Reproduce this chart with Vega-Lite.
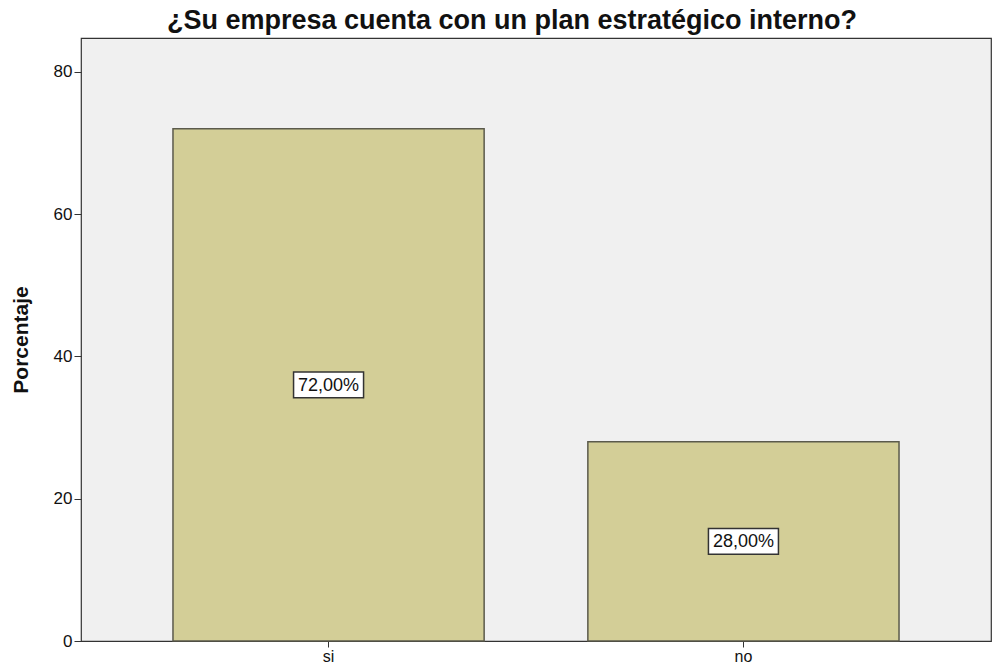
{
  "$schema": "https://vega.github.io/schema/vega-lite/v6.json",
  "width": 910,
  "height": 603,
  "autosize": {"type": "none"},
  "padding": {"left": 81, "top": 38, "right": 1, "bottom": 27},
  "background": "white",
  "title": {
    "text": "¿Su empresa cuenta con un plan estratégico interno?",
    "font": "Liberation Sans",
    "fontSize": 27,
    "fontWeight": "bold",
    "color": "#111",
    "anchor": "middle",
    "dx": -24,
    "offset": 3
  },
  "config": {
    "view": {"fill": "#f0f0f0", "stroke": "#333333", "strokeWidth": 1.2},
    "axis": {"labelFont": "Liberation Sans", "titleFont": "Liberation Sans", "labelColor": "#111", "titleColor": "#111", "grid": false, "domainColor": "#333333", "tickColor": "#333333"}
  },
  "data": {
    "values": [
      {"respuesta": "si", "porcentaje": 72, "etiqueta": "72,00%"},
      {"respuesta": "no", "porcentaje": 28, "etiqueta": "28,00%"}
    ]
  },
  "encoding": {
    "x": {
      "field": "respuesta",
      "type": "nominal",
      "sort": ["si", "no"],
      "scale": {"paddingInner": 0.25, "paddingOuter": 0.2217},
      "axis": {"title": null, "labelAngle": 0, "labelFontSize": 16, "tickSize": 6, "labelPadding": 1, "domain": false}
    }
  },
  "layer": [
    {
      "mark": {"type": "bar", "fill": "#d3ce97", "stroke": "#5b5a4c", "strokeWidth": 1.5},
      "encoding": {
        "y": {
          "field": "porcentaje",
          "type": "quantitative",
          "scale": {"domain": [0, 84.75], "nice": false, "zero": true},
          "axis": {"title": "Porcentaje", "titleFontSize": 21, "titleFontWeight": "bold", "titlePadding": 22, "values": [0, 20, 40, 60, 80], "labelFontSize": 17, "tickSize": 7, "labelPadding": 2, "domain": false}
        }
      }
    },
    {
      "layer": [
        {
          "mark": {"type": "point", "shape": "M-1,-0.37L1,-0.37L1,0.37L-1,0.37Z", "filled": true, "fill": "white", "stroke": "#333333", "strokeWidth": 1.5, "opacity": 1, "size": 4900},
          "encoding": {
            "y": {"field": "porcentaje", "type": "quantitative", "scale": {"domain": [0, 169.5], "nice": false}, "axis": null}
          }
        },
        {
          "mark": {"type": "text", "font": "Liberation Sans", "fontSize": 18, "color": "#111", "baseline": "middle", "align": "center", "dy": 1},
          "encoding": {
            "y": {"field": "porcentaje", "type": "quantitative", "scale": {"domain": [0, 169.5], "nice": false}, "axis": null},
            "text": {"field": "etiqueta"}
          }
        }
      ]
    }
  ],
  "resolve": {"scale": {"y": "independent"}}
}
